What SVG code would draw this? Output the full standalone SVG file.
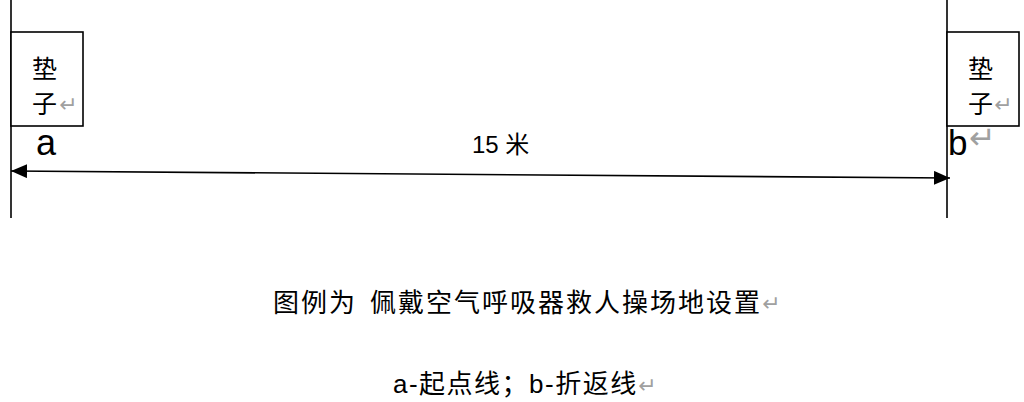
<svg xmlns="http://www.w3.org/2000/svg" width="1024" height="402" viewBox="0 0 1024 402">
  <style>
    .t { font-family: "Liberation Sans", "Noto Sans CJK SC", sans-serif; fill: #000; }
    .m { font-family: "DejaVu Sans", sans-serif; fill: #a0a0a0; }
    .ln { stroke: #000; stroke-width: 1.6; fill: none; }
    .box { stroke: #000; stroke-width: 1.6; fill: #fff; }
  </style>
  <defs>
    <marker id="ah" markerUnits="userSpaceOnUse" markerWidth="16" markerHeight="14" refX="16" refY="7" orient="auto-start-reverse">
      <path d="M0,0 L16,7 L0,14 Z" fill="#000"/>
    </marker>
  </defs>
  <rect width="1024" height="402" fill="#fff"/>

  <g id="line-a">
    <line class="ln" x1="11" y1="0" x2="11" y2="218"/>
  </g>
  <g id="line-b">
    <line class="ln" x1="947" y1="0" x2="947" y2="218"/>
  </g>

  <g id="pad-left">
    <rect class="box" x="11" y="32" width="72" height="94"/>
    <text class="t" x="32" y="78" font-size="25">垫</text>
    <text class="t" x="32" y="113" font-size="25">子</text>
    <text class="m" x="59" y="112" font-size="22">↵</text>
  </g>
  <g id="pad-right">
    <rect class="box" x="947" y="32" width="72" height="94"/>
    <text class="t" x="968" y="78" font-size="25">垫</text>
    <text class="t" x="968" y="113" font-size="25">子</text>
    <text class="m" x="994" y="112" font-size="22">↵</text>
  </g>

  <g id="label-a">
    <text class="t" x="36" y="155" font-size="36">a</text>
  </g>
  <g id="label-b">
    <text class="t" x="948" y="155" font-size="35">b</text>
    <text class="m" x="969" y="149" font-size="32">↵</text>
  </g>

  <g id="connectors">
    <line class="ln" x1="11" y1="171" x2="950" y2="178" marker-start="url(#ah)" marker-end="url(#ah)"/>
    <text class="t" x="472" y="153" font-size="24">15 米</text>
  </g>

  <g id="caption">
    <text class="t" y="312" font-size="26" letter-spacing="2"><tspan x="273">图例为</tspan><tspan x="370">佩戴空气呼吸器救人操场地设置</tspan></text>
    <text class="m" x="762" y="311" font-size="22">↵</text>
    <text class="t" y="393" font-size="26" letter-spacing="1.5"><tspan x="393">a-起点线；b-折返线</tspan></text>
    <text class="m" x="638" y="393" font-size="22">↵</text>
  </g>
</svg>
